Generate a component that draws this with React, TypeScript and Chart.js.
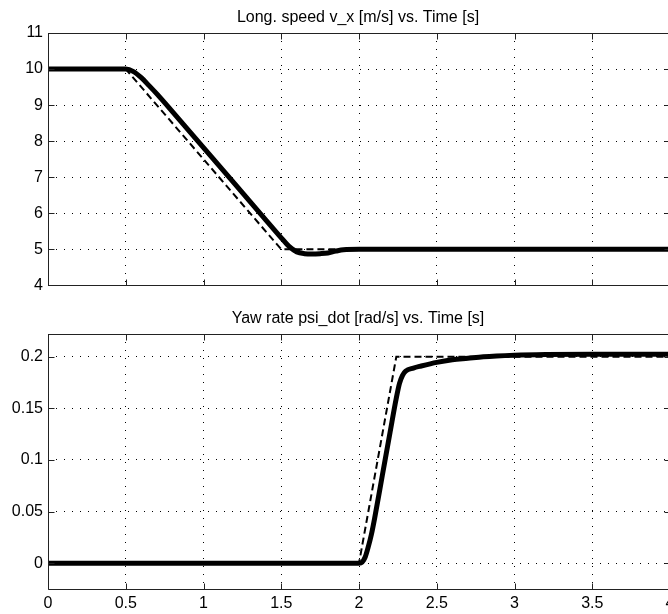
import React, { useEffect, useRef } from "react";
import { Chart, registerables } from "chart.js";

Chart.register(...registerables);

const FONT = "'Liberation Sans', Arial, Helvetica, sans-serif";

// Tick values and labels
const xTicks = [0, 0.5, 1, 1.5, 2, 2.5, 3, 3.5, 4];
const xTickLabels = ["0", "0.5", "1", "1.5", "2", "2.5", "3", "3.5", "4"];
const speedTicks = [4, 5, 6, 7, 8, 9, 10, 11];
const speedTickLabels = ["4", "5", "6", "7", "8", "9", "10", "11"];
const yawTicks = [0, 0.05, 0.1, 0.15, 0.2];
const yawTickLabels = ["0", "0.05", "0.1", "0.15", "0.2"];

// Titles
const speedTitle = "Long. speed v_x [m/s] vs. Time [s]";
const yawTitle = "Yaw rate psi_dot [rad/s] vs. Time [s]";

// Longitudinal speed: actual (solid) and reference (dashed)
const speedTime = [0, 0.5, 0.55, 0.6, 0.65, 0.7, 0.8, 1.0, 1.2, 1.4, 1.5, 1.55, 1.6, 1.65, 1.7, 1.75, 1.8, 1.85, 1.9, 2.0, 4.0];
const speedActual = [10, 10, 9.93, 9.76, 9.54, 9.31, 8.82, 7.82, 6.82, 5.82, 5.32, 5.08, 4.93, 4.88, 4.87, 4.88, 4.9, 4.95, 4.99, 5.0, 5.0];
const speedRefTime = [0, 0.5, 1.5, 4];
const speedRef = [10, 10, 5, 5];

// Yaw rate: actual (solid) and reference (dashed)
const yawTime = [0, 2.0, 2.02, 2.04, 2.06, 2.08, 2.1, 2.15, 2.2, 2.24, 2.26, 2.28, 2.3, 2.35, 2.4, 2.5, 2.6, 2.7, 2.8, 3.0, 3.2, 3.5, 4.0];
const yawActual = [0, 0, 0.001, 0.006, 0.016, 0.028, 0.043, 0.085, 0.127, 0.16, 0.174, 0.182, 0.186, 0.189, 0.191, 0.1945, 0.197, 0.1985, 0.2, 0.2015, 0.2022, 0.2025, 0.2025];
const yawRefTime = [0, 2.0, 2.24, 4];
const yawRef = [0, 0, 0.2, 0.2];

const toPoints = (xs: number[], ys: number[]) => xs.map((x, i) => ({ x, y: ys[i] }));

const framePlugin = {
  id: "matlabFrame",
  afterDatasetsDraw(chart: any, _args: any, opts: any) {
    const { ctx, chartArea: a, scales } = chart;
    const L = Math.round(a.left) + 0.5;
    const R = Math.round(a.right) + 0.5;
    const T = Math.round(a.top) + 0.5;
    const B = Math.round(a.bottom) + 0.5;
    const tl = 6;
    ctx.save();
    ctx.strokeStyle = "#222";
    ctx.lineWidth = 1;
    ctx.setLineDash([]);
    ctx.beginPath();
    ctx.rect(L, T, R - L, B - T);
    for (const v of opts.xTicks as number[]) {
      const px = Math.round(scales.x.getPixelForValue(v)) + 0.5;
      ctx.moveTo(px, B);
      ctx.lineTo(px, B - tl);
      ctx.moveTo(px, T);
      ctx.lineTo(px, T + tl);
    }
    for (const v of opts.yTicks as number[]) {
      const py = Math.round(scales.y.getPixelForValue(v)) + 0.5;
      ctx.moveTo(L, py);
      ctx.lineTo(L + tl, py);
      ctx.moveTo(R, py);
      ctx.lineTo(R - tl, py);
    }
    ctx.stroke();
    ctx.restore();
  },
  afterDraw(chart: any, _args: any, opts: any) {
    const { ctx, chartArea: a } = chart;
    ctx.save();
    ctx.font = `16px ${FONT}`;
    ctx.fillStyle = "#000";
    ctx.textAlign = "center";
    ctx.textBaseline = "alphabetic";
    ctx.fillText(opts.title, (a.left + a.right) / 2 - 1, a.top - 11);
    ctx.restore();
  },
};

function makeConfig(
  title: string,
  datasets: any[],
  yMin: number,
  yMax: number,
  yTicks: number[],
  yLabels: string[],
  showX: boolean,
  padTop: number
): any {
  return {
    type: "line",
    data: { datasets },
    plugins: [framePlugin],
    options: {
      responsive: false,
      animation: false,
      devicePixelRatio: 1,
      layout: { padding: { top: padTop, right: 20, bottom: 0, left: 0 } },
      plugins: {
        legend: { display: false },
        tooltip: { enabled: false },
        matlabFrame: { title, xTicks, yTicks },
      },
      elements: { point: { radius: 0 } },
      scales: {
        x: {
          type: "linear",
          min: 0,
          max: 4,
          afterBuildTicks: (s: any) => {
            s.ticks = xTicks.map((v) => ({ value: v }));
          },
          afterFit: (s: any) => {
            s.height = showX ? 25 : 13;
          },
          ticks: {
            display: showX,
            autoSkip: false,
            maxRotation: 0,
            minRotation: 0,
            padding: 5,
            color: "#000",
            font: { family: FONT, size: 16 },
            callback: (_v: any, i: number) => xTickLabels[i],
          },
          grid: { color: "#000", lineWidth: 1, drawTicks: false },
          border: { display: false, dash: [1, 7] },
        },
        y: {
          type: "linear",
          min: yMin,
          max: yMax,
          afterBuildTicks: (s: any) => {
            s.ticks = yTicks.map((v) => ({ value: v }));
          },
          afterFit: (s: any) => {
            s.width = 48;
          },
          ticks: {
            autoSkip: false,
            padding: 5,
            color: "#000",
            font: { family: FONT, size: 16 },
            callback: (_v: any, i: number) => yLabels[i],
          },
          grid: { color: "#000", lineWidth: 1, drawTicks: false },
          border: { display: false, dash: [1, 7] },
        },
      },
    },
  };
}

const solidStyle = {
  borderColor: "#000",
  backgroundColor: "#000",
  borderWidth: 5,
  fill: false,
  cubicInterpolationMode: "monotone",
  borderJoinStyle: "round",
};

const dashedStyle = {
  borderColor: "#000",
  backgroundColor: "#000",
  borderWidth: 2,
  borderDash: [7, 4],
  fill: false,
  tension: 0,
};

export default function App() {
  const topRef = useRef<HTMLCanvasElement | null>(null);
  const botRef = useRef<HTMLCanvasElement | null>(null);

  useEffect(() => {
    const top = new Chart(
      topRef.current as HTMLCanvasElement,
      makeConfig(
        speedTitle,
        [
          { ...dashedStyle, data: toPoints(speedRefTime, speedRef) },
          { ...solidStyle, data: toPoints(speedTime, speedActual) },
        ],
        4,
        11,
        speedTicks,
        speedTickLabels,
        false,
        33
      )
    );
    const bot = new Chart(
      botRef.current as HTMLCanvasElement,
      makeConfig(
        yawTitle,
        [
          { ...dashedStyle, data: toPoints(yawRefTime, yawRef) },
          { ...solidStyle, data: toPoints(yawTime, yawActual) },
        ],
        -0.025,
        0.222,
        yawTicks,
        yawTickLabels,
        true,
        34
      )
    );
    return () => {
      top.destroy();
      bot.destroy();
    };
  }, []);

  return (
    <div
      style={{
        position: "absolute",
        left: 0,
        top: 0,
        width: 668,
        height: 614,
        overflow: "hidden",
        background: "#fff",
      }}
    >
      <canvas
        ref={topRef}
        width={690}
        height={300}
        style={{ position: "absolute", left: 0, top: 0, width: 690, height: 300 }}
      />
      <canvas
        ref={botRef}
        width={690}
        height={314}
        style={{ position: "absolute", left: 0, top: 300, width: 690, height: 314 }}
      />
    </div>
  );
}
